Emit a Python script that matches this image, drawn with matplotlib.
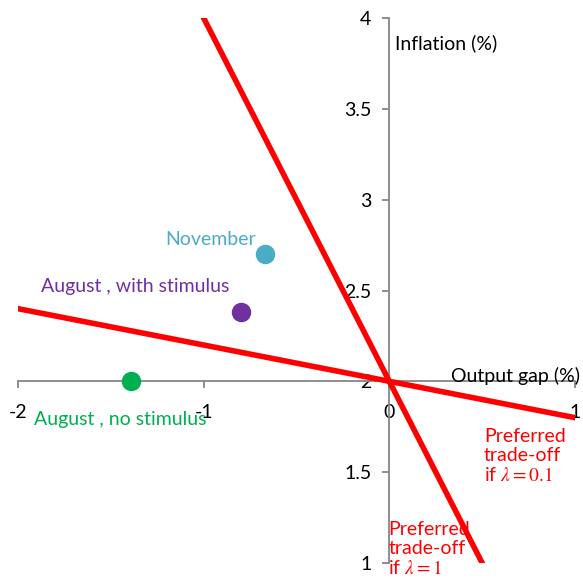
import matplotlib
matplotlib.use("Agg")
import matplotlib.pyplot as plt
import numpy as np

plt.rcParams['font.family'] = ['Lato', 'DejaVu Sans']
plt.rcParams['mathtext.fontset'] = 'stix'

# Data
point_labels = ["November", "August , with stimulus", "August , no stimulus"]
point_x = [-0.67, -0.80, -1.39]
point_y = [2.70, 2.38, 2.00]
point_colors = ["#4BACC6", "#7030A0", "#00B050"]

# Preferred trade-off lines through (0, 2): slopes
line_x = [-2.0, 1.0]
slope_lam01 = -0.2
slope_lam1 = -2.0
origin = (0.0, 2.0)

xticks = [-2, -1, 0, 1]
yticks = [1, 1.5, 2, 2.5, 3, 3.5, 4]
ytick_labels = ["1", "1.5", "2", "2.5", "3", "3.5", "4"]

fig = plt.figure(figsize=(5.83, 5.79), dpi=100)
ax = fig.add_axes([18/583, 1-563/579, (575-18)/583, (563-18)/579])
ax.set_xlim(-2, 1)
ax.set_ylim(1, 4)

gray = "#868686"
for s in ['top', 'right']:
    ax.spines[s].set_visible(False)
ax.spines['left'].set_position(('data', 0))
ax.spines['bottom'].set_position(('data', 2))
ax.spines['left'].set_color(gray)
ax.spines['bottom'].set_color(gray)
ax.spines['left'].set_linewidth(1.3)
ax.spines['bottom'].set_linewidth(1.3)

ax.set_xticks(xticks)
ax.set_xticklabels([str(t) for t in xticks])
ax.set_yticks(yticks)
ax.set_yticklabels(ytick_labels)
ax.tick_params(axis='x', direction='out', length=5, width=1.3, color=gray, pad=11, labelsize=14)
ax.tick_params(axis='y', direction='out', length=5, width=1.3, color=gray, pad=8, labelsize=14)

xs = np.array(line_x)
ax.plot(xs, origin[1] + slope_lam01 * (xs - origin[0]), color='red', lw=4, zorder=5, clip_on=True)
ax.plot(xs, origin[1] + slope_lam1 * (xs - origin[0]), color='red', lw=4, zorder=5, clip_on=True)

for x, y, c in zip(point_x, point_y, point_colors):
    ax.plot([x], [y], 'o', color=c, markersize=13, zorder=6, clip_on=False)

fs = 14
ax.text(-0.72, 2.78, point_labels[0], color=point_colors[0], fontsize=fs, ha='right', va='center')
ax.text(-1.876, 2.52, point_labels[1], color=point_colors[1], fontsize=fs, ha='left', va='center')
ax.text(-1.914, 1.79, point_labels[2], color=point_colors[2], fontsize=fs, ha='left', va='center', zorder=7)

ax.text(0.333, 2.03, "Output gap (%)", fontsize=fs, ha='left', va='center')
ax.text(0.032, 3.86, "Inflation (%)", fontsize=fs, ha='left', va='center')

ax.text(0.51, 1.59, "Preferred\ntrade-off\nif $\\lambda = 0.1$", color='red', fontsize=fs,
        ha='left', va='center', linespacing=1.15)
ax.text(-0.005, 1.077, "Preferred\ntrade-off\nif $\\lambda = 1$", color='red', fontsize=fs,
        ha='left', va='center', linespacing=1.15, clip_on=False)

fig.savefig("out.png", dpi=100)
